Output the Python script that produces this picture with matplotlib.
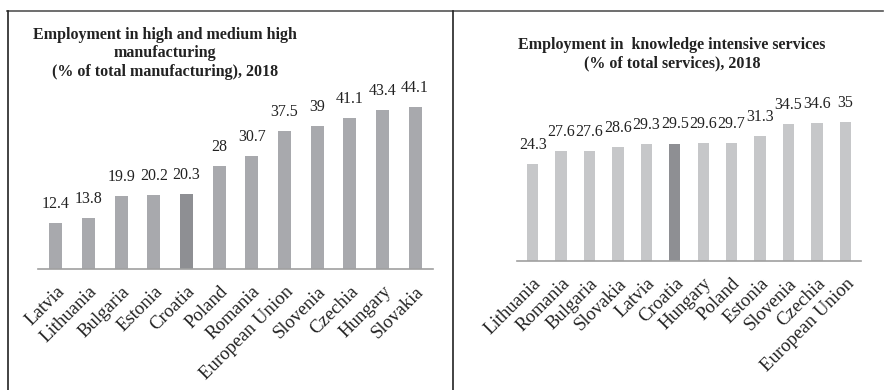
import matplotlib
matplotlib.use("Agg")
import matplotlib.pyplot as plt
from matplotlib.lines import Line2D
import numpy as np

# data - left panel
manuf_countries = ["Latvia", "Lithuania", "Bulgaria", "Estonia", "Croatia", "Poland",
                   "Romania", "European Union", "Slovenia", "Czechia", "Hungary", "Slovakia"]
manuf_values = [12.4, 13.8, 19.9, 20.2, 20.3, 28, 30.7, 37.5, 39, 41.1, 43.4, 44.1]

# data - right panel
serv_countries = ["Lithuania", "Romania", "Bulgaria", "Slovakia", "Latvia", "Croatia",
                  "Hungary", "Poland", "Estonia", "Slovenia", "Czechia", "European Union"]
serv_values = [24.3, 27.6, 27.6, 28.6, 29.3, 29.5, 29.6, 29.7, 31.3, 34.5, 34.6, 35]

plt.rcParams['font.family'] = ['Liberation Serif', 'DejaVu Serif']

W, H = 885, 390
fig = plt.figure(figsize=(W/100, H/100), dpi=100)

def px(x0, y0, x1, y1):
    # pixel box (top-left origin) -> figure fraction rect
    return [x0/W, 1-y1/H, (x1-x0)/W, (y1-y0)/H]

def panel(ax, cats, vals, col, hl_col, ymax, lab_off):
    x = np.arange(len(cats))
    cols = [hl_col if c == "Croatia" else col for c in cats]
    ax.bar(x, vals, width=0.4, color=cols)
    for xi, v in zip(x, vals):
        ax.annotate("{:g}".format(v), (xi, v), xytext=(0, lab_off), textcoords="offset points",
                    ha="center", va="bottom", fontsize=11.5, color="#222222")
    ax.set_xlim(-0.55, len(cats)-0.45)
    ax.set_ylim(0, ymax)
    ax.set_yticks([])
    for s in ["top", "right", "left"]:
        ax.spines[s].set_visible(False)
    ax.spines["bottom"].set_color("#a0a0a0")
    ax.spines["bottom"].set_linewidth(1.2)
    ax.set_xticks(x)
    ax.set_xticklabels(cats, rotation=45, ha="right", rotation_mode="anchor",
                       fontsize=13.5, color="#222222")
    ax.tick_params(axis="x", length=0, pad=10)
    ax.patch.set_alpha(0)

ax1 = fig.add_axes(px(38, 85.5, 433, 269))
panel(ax1, manuf_countries, manuf_values, "#a8a9ad", "#8e8f93", 50, 8)

ax2 = fig.add_axes(px(517, 100, 861, 261))
panel(ax2, serv_countries, serv_values, "#c6c7c9", "#8e8f93", 161/3.98, 8)

fig.text(165/W, 1-27/H, "Employment in high and medium high\nmanufacturing\n(% of total manufacturing), 2018",
         ha="center", va="top", fontsize=11.5, fontweight="bold", linespacing=1.2, color="#222222")
fig.text(672/W, 1-37/H, "Employment in  knowledge intensive services\n(% of total services), 2018",
         ha="center", va="top", fontsize=11.5, fontweight="bold", linespacing=1.2, color="#222222")

# frame lines
fig.add_artist(Line2D([7/W, 883/W], [1-10.5/H, 1-10.5/H], color="#555555", lw=1.2))
fig.add_artist(Line2D([7.5/W, 7.5/W], [0, 1-10.5/H], color="#222222", lw=1.2))
fig.add_artist(Line2D([453.5/W, 453.5/W], [0, 1-10.5/H], color="#222222", lw=1.2))

plt.savefig("out.png", dpi=100)
